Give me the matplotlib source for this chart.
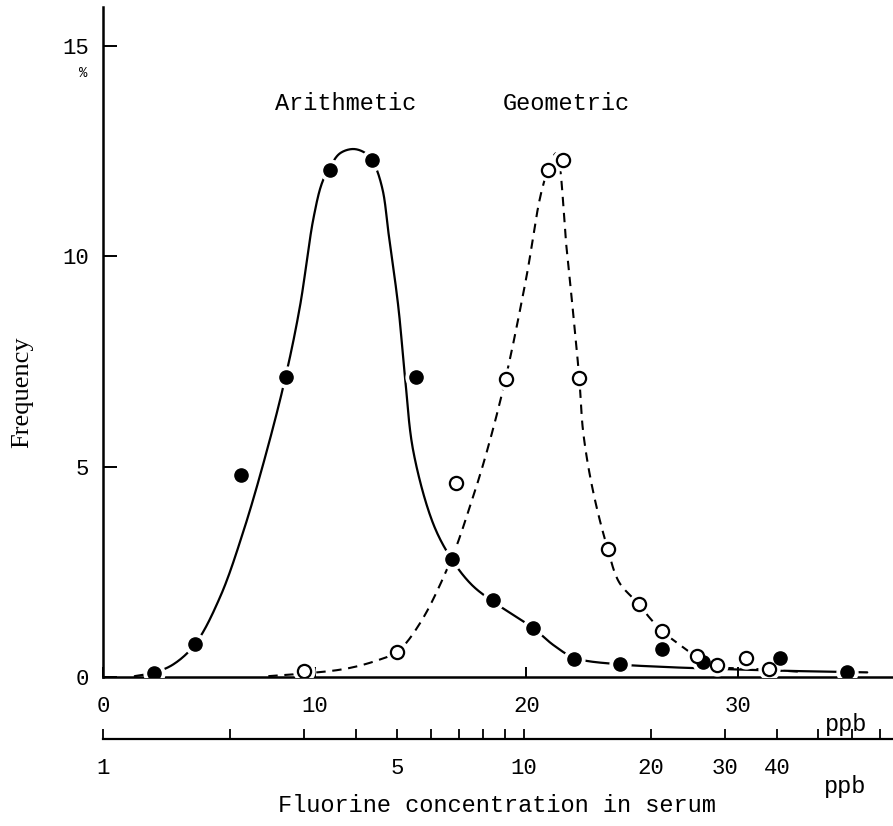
import numpy as np
import matplotlib
matplotlib.use("Agg")
import matplotlib.pyplot as plt
from matplotlib.ticker import FixedLocator, FixedFormatter, NullLocator

# Frequency (%) of serum fluorine concentration, arithmetic scale (ppb)
arith_ppb = [2.4, 4.35, 6.5, 8.63, 10.7, 12.7, 14.8, 16.47, 18.4, 20.33,
             22.26, 24.42, 26.42, 28.35, 31.98, 35.13]
arith_freq = [0.1, 0.78, 4.8, 7.12, 12.05, 12.3, 7.12, 2.8, 1.82, 1.17,
              0.42, 0.32, 0.67, 0.36, 0.46, 0.12]

# Same distribution on a geometric (log) scale (ppb)
geo_ppb = [3.0, 5.0, 6.9, 9.05, 11.4, 12.35, 13.5, 15.8, 18.8, 21.3,
           25.7, 28.7, 33.6, 38.2]
geo_freq = [0.15, 0.6, 4.62, 7.08, 12.05, 12.3, 7.1, 3.05, 1.74, 1.1,
            0.5, 0.28, 0.46, 0.18]

# Hand-fitted curves (knots)
arith_fit_ppb = [1.5, 2.38, 3.32, 4.35, 5.53, 6.63, 7.73, 8.63, 9.3, 9.94,
                 10.35, 10.75, 11.2, 11.83, 12.4, 12.8, 13.2, 13.5, 13.95,
                 14.27, 14.66, 15.6, 16.47, 17.4, 18.4, 20.3, 21.3, 22.3,
                 24.4, 26.0, 28.0, 32.0, 36.1]
arith_fit_freq = [0.02, 0.1, 0.3, 0.78, 1.9, 3.46, 5.36, 7.15, 8.8, 10.9,
                  11.75, 12.15, 12.45, 12.55, 12.45, 12.2, 11.6, 10.5, 8.8,
                  7.1, 5.36, 3.64, 2.8, 2.2, 1.8, 1.17, 0.75, 0.45,
                  0.3, 0.25, 0.21, 0.15, 0.11]

geo_fit_ppb = [2.47, 3.0, 3.79, 4.5, 5.0, 5.68, 6.75, 7.41, 8.13, 9.02,
               10.13, 10.98, 11.64, 11.94, 12.62, 13.04, 13.53, 13.83,
               14.6, 15.8, 16.83, 18.71, 19.91, 21.35, 23.48, 25.69,
               28.71, 34.16, 46.15]
geo_fit_freq = [0.02, 0.08, 0.2, 0.4, 0.6, 1.3, 2.85, 4.0, 5.3, 7.05,
                9.5, 11.5, 12.3, 12.45, 10.2, 8.8, 7.1, 5.8,
                4.4, 3.05, 2.25, 1.74, 1.4, 1.08, 0.76, 0.48,
                0.25, 0.2, 0.12]

y_ticks = [0, 5, 10, 15]
arith_ticks = [0, 10, 20, 30]
log_ticks = [1, 2, 3, 4, 5, 6, 7, 8, 9, 10, 20, 30, 40, 50, 60, 70]
log_labels = ["1", "", "", "", "5", "", "", "", "", "10", "20", "30", "40",
              "", "", ""]

W, H = 893, 826
MONO = "Liberation Mono"
SERIF = "Liberation Serif"

# pixel geometry of the plotting frame
x0_px, x1_px = 103, 893
y0_px, ytop_px = 677, 7
px_per_ppb = 21.17
px_per_pct = 42.07
px_per_decade = 421.0


def smooth(px, py, n=24):
    """Centripetal Catmull-Rom curve through the given knots."""
    P = np.column_stack([px, py]).astype(float)
    P = np.vstack([2 * P[0] - P[1], P, 2 * P[-1] - P[-2]])
    out = []
    for i in range(1, len(P) - 2):
        p0, p1, p2, p3 = P[i - 1:i + 3]
        t0 = 0.0
        t1 = t0 + np.linalg.norm(p1 - p0) ** 0.5
        t2 = t1 + np.linalg.norm(p2 - p1) ** 0.5
        t3 = t2 + np.linalg.norm(p3 - p2) ** 0.5
        t = np.linspace(t1, t2, n, endpoint=False)[:, None]
        A1 = (t1 - t) / (t1 - t0) * p0 + (t - t0) / (t1 - t0) * p1
        A2 = (t2 - t) / (t2 - t1) * p1 + (t - t1) / (t2 - t1) * p2
        A3 = (t3 - t) / (t3 - t2) * p2 + (t - t2) / (t3 - t2) * p3
        B1 = (t2 - t) / (t2 - t0) * A1 + (t - t0) / (t2 - t0) * A2
        B2 = (t3 - t) / (t3 - t1) * A2 + (t - t1) / (t3 - t1) * A3
        out.append((t2 - t) / (t2 - t1) * B1 + (t - t1) / (t2 - t1) * B2)
    out.append(P[-2][None])
    return np.vstack(out)


fig = plt.figure(figsize=(W / 100, H / 100), dpi=100)
ax = fig.add_axes([x0_px / W, 1 - y0_px / H, (x1_px - x0_px) / W,
                   (y0_px - ytop_px) / H])
ax.set_xlim(0, (x1_px - x0_px) / px_per_ppb)
ax.set_ylim(0, (y0_px - ytop_px) / px_per_pct)

# geometric axis drawn below, sharing the frequency axis
axg = ax.twiny()
axg.set_xscale("log")
axg.set_xlim(1, 10 ** ((x1_px - x0_px) / px_per_decade))

for s in ["top", "right"]:
    ax.spines[s].set_visible(False)
for s in ["top", "right", "left"]:
    axg.spines[s].set_visible(False)
for s in ["left", "bottom"]:
    ax.spines[s].set_linewidth(1.8)
axg.spines["bottom"].set_visible(True)
axg.spines["bottom"].set_linewidth(1.6)
axg.spines["bottom"].set_position(("outward", 62 * 0.72))
axg.xaxis.set_ticks_position("bottom")
axg.xaxis.set_label_position("bottom")

ax.set_xticks(arith_ticks)
ax.set_xticklabels([str(v) for v in arith_ticks])
ax.set_yticks(y_ticks)
ax.set_yticklabels([str(v) for v in y_ticks])
ax.tick_params(axis="x", direction="in", length=7, width=1.4, pad=14,
               labelsize=16)
ax.tick_params(axis="y", direction="in", length=10, width=1.4, pad=10,
               labelsize=16)
axg.xaxis.set_major_locator(FixedLocator(log_ticks))
axg.xaxis.set_major_formatter(FixedFormatter(log_labels))
axg.xaxis.set_minor_locator(NullLocator())
axg.tick_params(axis="x", which="major", direction="in", length=7,
                width=1.3, pad=14, labelsize=16)
for lab in ax.get_xticklabels() + ax.get_yticklabels() + axg.get_xticklabels():
    lab.set_fontfamily(MONO)

# fitted curves
a_curve = smooth(np.array(arith_fit_ppb) * px_per_ppb,
                 np.array(arith_fit_freq) * px_per_pct)
axg.plot(a_curve[:, 0] / px_per_ppb, a_curve[:, 1] / px_per_pct,
         color="black", lw=1.6, solid_capstyle="round", zorder=2,
         transform=ax.transData)

g_curve = smooth(np.log10(geo_fit_ppb) * px_per_decade,
                 np.array(geo_fit_freq) * px_per_pct)
axg.plot(10 ** (g_curve[:, 0] / px_per_decade), g_curve[:, 1] / px_per_pct,
         color="black", lw=1.5, linestyle=(0, (4.5, 3.2)), zorder=2)

# white gaps round the points, then the points themselves
axg.plot(arith_ppb, arith_freq, "o", ms=15, color="white", mec="white",
         zorder=3, transform=ax.transData)
axg.plot(geo_ppb, geo_freq, "o", ms=15, color="white", mec="white", zorder=3)
axg.plot(arith_ppb, arith_freq, "o", ms=9.5, color="black", mec="black",
         zorder=4, transform=ax.transData)
axg.plot(geo_ppb, geo_freq, "o", ms=9.5, mfc="white", mec="black", mew=1.6,
         zorder=4)

axg.set_xlim(1, 10 ** ((x1_px - x0_px) / px_per_decade))
ax.set_xlim(0, (x1_px - x0_px) / px_per_ppb)
ax.set_ylim(0, (y0_px - ytop_px) / px_per_pct)


def ftext(x, y, s, **kw):
    fig.text(x / W, 1 - y / H, s, ha="center", va="center", **kw)


ftext(346, 103, "Arithmetic", fontsize=17, family=MONO)
ftext(566, 103, "Geometric", fontsize=17, family=MONO)
ftext(83, 73, "%", fontsize=10, family=MONO)
ftext(846, 724, "ppb", fontsize=17, family=MONO)
ftext(845, 787, "ppb", fontsize=17, family=MONO)
ftext(497, 806, "Fluorine concentration in serum", fontsize=17, family=MONO)
ftext(22, 392, "Frequency", fontsize=19, family=SERIF, rotation=90)

fig.savefig("out.png", dpi=100)
